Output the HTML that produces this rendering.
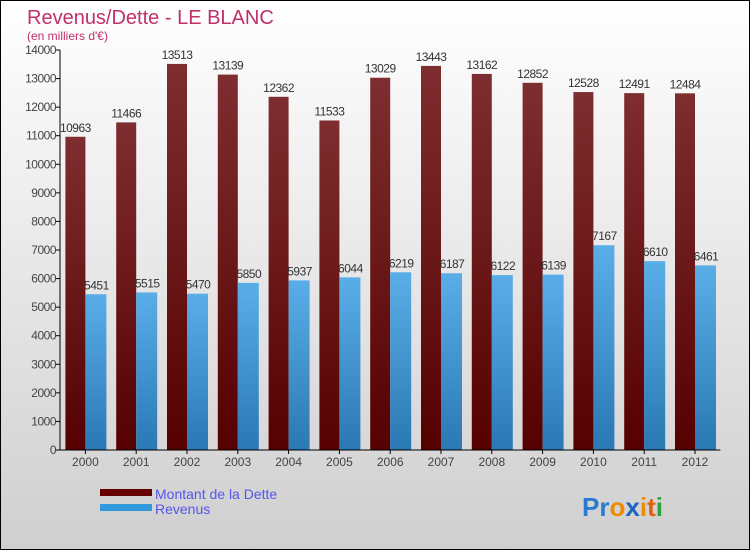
<!DOCTYPE html>
<html><head><meta charset="utf-8"><style>
body{margin:0}
#c{width:750px;height:550px;position:relative;overflow:hidden;box-sizing:border-box;border:1px solid #000;background:linear-gradient(#fff,#cfcfcf);font-family:"Liberation Sans",sans-serif}
</style></head><body>
<div id="c">
<svg id="s" width="750" height="550" style="position:absolute;left:-1px;top:-1px">
<defs>
<linearGradient id="gd" x1="0" y1="0" x2="0" y2="1"><stop offset="0" stop-color="#7e2e30"/><stop offset="1" stop-color="#560000"/></linearGradient>
<linearGradient id="gr" x1="0" y1="0" x2="0" y2="1"><stop offset="0" stop-color="#5aaee8"/><stop offset="1" stop-color="#2a78b4"/></linearGradient>
</defs>
<text x="27" y="24" font-size="20" fill="#c0306a">Revenus/Dette - LE BLANC</text>
<text x="27" y="40" font-size="12" fill="#c0306a">(en milliers d'€)</text>
<g id="g"></g>
<rect x="100" y="489" width="52" height="7" fill="#660000"/>
<text x="155" y="499" font-size="14" fill="#5555ee">Montant de la Dette</text>
<rect x="100" y="504" width="52" height="7" fill="#3399dd"/>
<text x="155" y="514" font-size="14" fill="#5555ee">Revenus</text>
<text x="582" y="516" font-size="26" font-weight="bold"><tspan fill="#2a7bd0">Pr</tspan><tspan fill="#f08a00">o</tspan><tspan fill="#1a66c0">x</tspan><tspan fill="#f08a00">i</tspan><tspan fill="#e06010">t</tspan><tspan fill="#30a040">i</tspan></text>
</svg>
</div>
<script>
const years=["2000","2001","2002","2003","2004","2005","2006","2007","2008","2009","2010","2011","2012"];
const dette=[10963,11466,13513,13139,12362,11533,13029,13443,13162,12852,12528,12491,12484];
const revenus=[5451,5515,5470,5850,5937,6044,6219,6187,6122,6139,7167,6610,6461];
const yTicks=[0,1000,2000,3000,4000,5000,6000,7000,8000,9000,10000,11000,12000,13000,14000];
const NS="http://www.w3.org/2000/svg";
const g=document.getElementById('g');
const x0=60,step=50.8,yMax=14000,yTop=50,yBot=450;
const y=v=>yBot-(v/yMax)*(yBot-yTop);
const cx=i=>x0+step*(i+0.5);
function mk(t,a){const e=document.createElementNS(NS,t);for(const k in a)e.setAttribute(k,a[k]);g.appendChild(e);return e;}
yTicks.forEach(v=>{
 const l=mk('line',{x1:56,x2:60,y1:y(v),y2:y(v),stroke:'#000'});
 
 
 const t=mk('text',{x:56,y:y(v)+4,'font-size':12,'text-anchor':'end',fill:'#444','letter-spacing':'-0.5'});
 t.textContent=v;
 
 
});
years.forEach((yr,i)=>{
 const c=cx(i);
 const r1=mk('rect',{x:c-20,y:y(dette[i]),width:20,height:yBot-y(dette[i]),fill:'url(#gd)'});
 
 
 const r2=mk('rect',{x:c,y:y(revenus[i]),width:21,height:yBot-y(revenus[i]),fill:'url(#gr)'});
 
 
 const t1=mk('text',{x:c-10,y:y(dette[i])-5,'font-size':12,'text-anchor':'middle',fill:'#333','letter-spacing':'-0.5'});
 t1.textContent=dette[i];
 
 
 const t2=mk('text',{x:c+11,y:y(revenus[i])-5,'font-size':12,'text-anchor':'middle',fill:'#333','letter-spacing':'-0.5'});
 t2.textContent=revenus[i];
 
 
 const tk=mk('line',{x1:c,x2:c,y1:450,y2:454,stroke:'#000'});
 
 
 const xl=mk('text',{x:c,y:466,'font-size':12,'text-anchor':'middle',fill:'#444'});
 xl.textContent=yr;
 
 
});
const ax=mk('line',{x1:60,x2:60,y1:50,y2:450,stroke:'#000'});


const bx=mk('line',{x1:60,x2:x0+step*13,y1:450,y2:450,stroke:'#000'});


</script>
</body></html>
